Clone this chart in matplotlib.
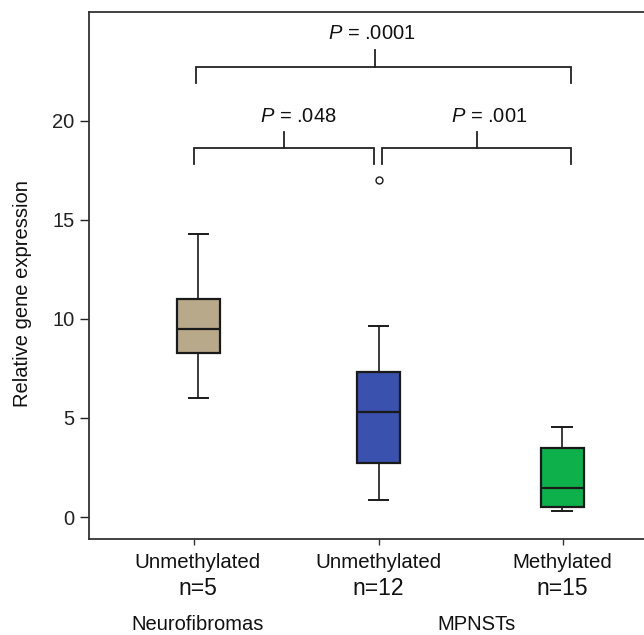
import matplotlib
matplotlib.use("Agg")
import matplotlib.pyplot as plt
from matplotlib import transforms

plt.rcParams['font.family'] = ['Liberation Sans', 'DejaVu Sans']
plt.rcParams['mathtext.fontset'] = 'custom'
plt.rcParams['mathtext.rm'] = 'Liberation Sans'
plt.rcParams['mathtext.it'] = 'Liberation Sans:italic'

# ---- data ----
categories = ["Unmethylated", "Unmethylated", "Methylated"]
n_labels = ["n=5", "n=12", "n=15"]
groups = ["Neurofibromas", "MPNSTs"]
whislo = [6.0, 0.86, 0.30]
q1 = [8.28, 2.73, 0.50]
med = [9.5, 5.3, 1.46]
q3 = [11.0, 7.32, 3.48]
whishi = [14.3, 9.65, 4.55]
fliers = [[], [17.0], []]
colors = ["#b8a98a", "#3a51ad", "#0db04b"]
p_labels = ["$P$ = .048", "$P$ = .001", "$P$ = .0001"]

# ---- layout ----
W, H = 644, 635
fig = plt.figure(figsize=(W / 100, H / 100), dpi=100)
ax = fig.add_axes([89 / W, 1 - 539 / H, 1 - 89 / W + 0.01, (539 - 12) / H])
ax.set_xlim(0.428, 3.441 + 0.01 * W / 184.2)
ax.set_ylim(-1.11, 25.5)

positions = [1.022, 2.0, 2.997]
stats = []
for i in range(3):
    stats.append(dict(whislo=whislo[i], q1=q1[i], med=med[i], q3=q3[i],
                      whishi=whishi[i], fliers=fliers[i], label=categories[i]))

edge = "#1a1a1a"
bp = ax.bxp(stats, positions=positions, widths=0.232, patch_artist=True,
            capwidths=0.107,
            boxprops=dict(linewidth=1.6, edgecolor=edge),
            medianprops=dict(color=edge, linewidth=1.6),
            whiskerprops=dict(color=edge, linewidth=1.2),
            capprops=dict(color=edge, linewidth=1.4),
            flierprops=dict(marker='o', markersize=5, markerfacecolor='white',
                            markeredgecolor=edge, markeredgewidth=1.0))
for patch, c in zip(bp['boxes'], colors):
    patch.set_facecolor(c)

# spines/ticks
for s in ['left', 'bottom', 'top']:
    ax.spines[s].set_color('#333333')
    ax.spines[s].set_linewidth(1.3)
ax.spines['right'].set_visible(False)
ax.set_yticks([0, 5, 10, 15, 20])
ax.tick_params(axis='y', direction='out', length=6.5, width=1.0, pad=4,
               labelsize=14.5, colors='#222222')
ax.set_xticks([1, 2, 3])
ax.set_xticklabels(["", "", ""])
ax.tick_params(axis='x', direction='out', length=4, width=1.0, colors='#333333')

# x labels
bt = transforms.blended_transform_factory(ax.transData, fig.transFigure)
label_x = [1.017, 2.0, 2.995]
for x, c, n in zip(label_x, categories, n_labels):
    ax.text(x, 1 - 567.5 / H, c, transform=bt, ha='center', va='baseline',
            fontsize=14.7, color='#111111')
    ax.text(x, 1 - 595 / H, n, transform=bt, ha='center', va='baseline',
            fontsize=16.5, color='#111111')
ax.text(1.017, 1 - 630.5 / H, groups[0], transform=bt, ha='center', va='baseline',
        fontsize=14.5, color='#111111')
ax.text(2.53, 1 - 630.5 / H, groups[1], transform=bt, ha='center', va='baseline',
        fontsize=14.5, color='#111111')

fig.text(22.5 / W, 1 - 294 / H, "Relative gene expression", rotation=90,
         ha='center', va='center', fontsize=14.5, color='#111111')

# significance brackets
def bracket(x0, x1, xc, y, yend, ytop):
    ax.plot([x0, x0, x1, x1], [yend, y, y, yend], color='#222222', lw=1.3,
            solid_joinstyle='miter', clip_on=False)
    ax.plot([xc, xc], [y, ytop], color='#222222', lw=1.3, clip_on=False)

bracket(1.0, 1.974, 1.488, 18.62, 17.8, 19.46)
bracket(2.021, 3.047, 2.536, 18.62, 17.8, 19.46)
bracket(1.011, 3.047, 1.978, 22.73, 21.9, 23.6)

ax.text(1.565, 20.2, p_labels[0], ha='center', va='center', fontsize=14.5, color='#111111')
ax.text(2.60, 20.2, p_labels[1], ha='center', va='center', fontsize=14.5, color='#111111')
ax.text(1.965, 24.4, p_labels[2], ha='center', va='center', fontsize=14.5, color='#111111')

fig.savefig("out.png", dpi=100)
